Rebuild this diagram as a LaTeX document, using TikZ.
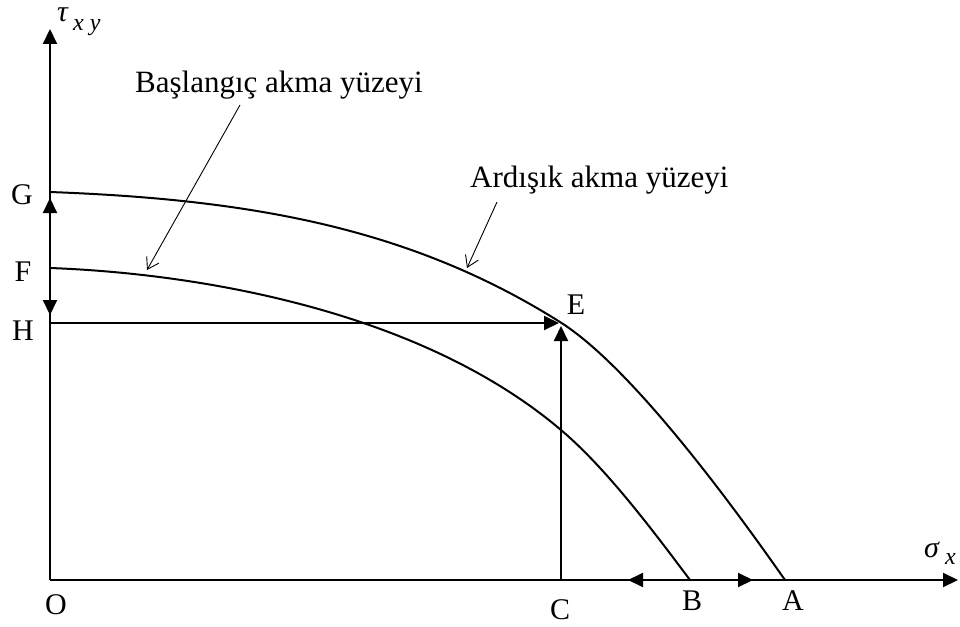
\documentclass[tikz,border=0pt]{standalone}
\usepackage{fontspec}
\setmainfont{Liberation Serif}
\usetikzlibrary{arrows.meta}
\begin{document}
\begin{tikzpicture}[x=1pt,y=-1pt,
  lbl/.style={font=\fontsize{30}{36}\selectfont, inner sep=0pt},
  txt/.style={font=\fontsize{31}{36}\selectfont, inner sep=0pt, anchor=base west},
  sym/.style={font=\fontsize{30}{36}\selectfont\itshape, inner sep=0pt, anchor=base west},
  subs/.style={font=\fontsize{24}{28}\selectfont\itshape, inner sep=0pt, anchor=base west},
  axisline/.style={line width=2pt, -{Triangle[length=15pt,width=14pt]}},
  bigarrow/.style={line width=2pt, -{Triangle[length=15pt,width=14pt]}},
  dblarrow/.style={line width=2pt, {Triangle[length=15pt,width=14pt]}-{Triangle[length=15pt,width=14pt]}},
  yieldcurve/.style={line width=2pt},
  pointer/.style={line width=0.9pt, -{Straight Barb[length=11pt,width=14pt]}}
]
\useasboundingbox (0,0) rectangle (960,626);

% key coordinates
\coordinate (O) at (50,580);
\coordinate (Ytip) at (50,29);
\coordinate (Xtip) at (958,580);
\coordinate (G) at (50,192);
\coordinate (F) at (50,268);
\coordinate (H) at (50,323);
\coordinate (E) at (559,323);
\coordinate (Ev) at (561,326);
\coordinate (C) at (561,580);
\coordinate (B) at (690,580);
\coordinate (A) at (785,580);
\coordinate (Gup) at (50,198);
\coordinate (Hdn) at (50,315);
\coordinate (Bl) at (628,580);
\coordinate (Br) at (753,580);
\coordinate (Ec) at (560,322);
\coordinate (M) at (561,430);

% axes
\draw[axisline] (O) -- (Ytip);
\draw[axisline] (O) -- (Xtip);

% yield surfaces
\draw[yieldcurve] (G) .. controls (250,199.4) and (410,227.5) .. (Ec)
  .. controls (630,366) and (729,500) .. (A);
\draw[yieldcurve] (F) .. controls (200,273.5) and (421,311) .. (M)
  .. controls (606,468) and (652.5,530) .. (B);

% loading paths
\draw[bigarrow] (H) -- (E);
\draw[bigarrow] (C) -- (Ev);
\draw[dblarrow] (Gup) -- (Hdn);
\draw[dblarrow] (Bl) -- (Br);

% labels
\node[lbl] (lG) at (22,195) {G};
\node[lbl] (lF) at (23,272) {F};
\node[lbl] (lH) at (23,331) {H};
\node[lbl] (lO) at (56,605) {O};
\node[lbl] (lC) at (560,610) {C};
\node[lbl] (lB) at (692,601) {B};
\node[lbl] (lA) at (793,601) {A};
\node[lbl] (lE) at (576,305) {E};

\node[sym] (tau) at (57,22) {τ};
\node[subs] (tausub) at (73,31) {x y};
\node[sym] (sig) at (924,557) {σ};
\node[subs] (sigsub) at (945,564) {x};

% annotations
\node[txt] (bas) at (135,92) {Başlangıç akma yüzeyi};
\node[txt] (ard) at (470,187) {Ardışık akma yüzeyi};
\coordinate (basS) at (240,105);
\coordinate (basT) at (147,270);
\coordinate (ardS) at (497,202);
\coordinate (ardT) at (467,268);
\draw[pointer] (basS) -- (basT);
\draw[pointer] (ardS) -- (ardT);
\end{tikzpicture}
\end{document}
